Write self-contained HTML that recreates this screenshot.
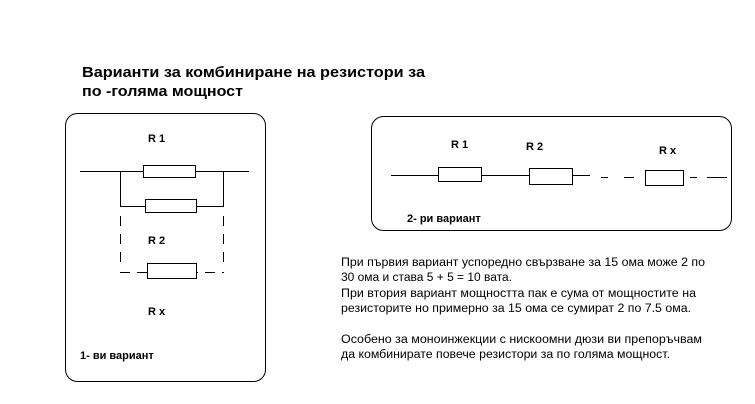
<!DOCTYPE html>
<html><head><meta charset="utf-8"><style>html,body{margin:0;padding:0;background:#fff;}svg{display:block}</style></head>
<body>
<svg width="755" height="404" viewBox="0 0 755 404" xmlns="http://www.w3.org/2000/svg" font-family="Liberation Sans, DejaVu Sans, sans-serif">
<rect width="755" height="404" fill="#fff"/>
<g font-weight="bold" font-size="15" fill="#000">
<text x="82" y="77" textLength="343" lengthAdjust="spacingAndGlyphs">Варианти за комбиниране на резистори за</text>
<text x="82" y="96" textLength="161" lengthAdjust="spacingAndGlyphs">по -голяма мощност</text>
</g>
<g fill="none" stroke="#000" stroke-width="1">
<rect x="65.5" y="113.5" width="200" height="268" rx="12"/>
<rect x="371.5" y="116.5" width="360" height="114" rx="12"/>
<line x1="80" y1="171.5" x2="249" y2="171.5"/>
<rect x="143.5" y="165.5" width="52" height="12" fill="#fff"/>
<line x1="120.5" y1="171" x2="120.5" y2="206"/>
<line x1="223.5" y1="171" x2="223.5" y2="206"/>
<line x1="120" y1="206.5" x2="224" y2="206.5"/>
<rect x="145.5" y="199.5" width="51" height="13" fill="#fff"/>
<line x1="120.5" y1="216" x2="120.5" y2="270" stroke-dasharray="10,8"/>
<line x1="223.5" y1="216" x2="223.5" y2="270" stroke-dasharray="10,8"/>
<line x1="120" y1="272.5" x2="224" y2="272.5" stroke-dasharray="10,7"/>
<rect x="147.5" y="263.5" width="49" height="15" fill="#fff"/>
<line x1="391" y1="175.5" x2="590" y2="175.5"/>
<rect x="438.5" y="167.5" width="43" height="14" fill="#fff"/>
<rect x="529.5" y="168.5" width="43" height="16" fill="#fff"/>
<line x1="601" y1="177.5" x2="608" y2="177.5"/>
<line x1="624" y1="177.5" x2="634" y2="177.5"/>
<rect x="645.5" y="170.5" width="38" height="15" fill="#fff"/>
<line x1="690" y1="177.5" x2="697" y2="177.5"/>
<line x1="707" y1="177.5" x2="727" y2="177.5"/>
</g>
<g font-weight="bold" font-size="11" fill="#000">
<text x="148" y="142">R 1</text>
<text x="148" y="244">R 2</text>
<text x="148" y="315">R x</text>
<text x="80" y="359">1- ви вариант</text>
<text x="451" y="148">R 1</text>
<text x="526" y="150">R 2</text>
<text x="659" y="154">R x</text>
<text x="407" y="222">2- ри вариант</text>
</g>
<g font-size="11.5" fill="#000">
<text x="341" y="266" textLength="364" lengthAdjust="spacingAndGlyphs">При първия вариант успоредно свързване за 15 ома може 2 по</text>
<text x="341" y="281" textLength="171" lengthAdjust="spacingAndGlyphs">30 ома и става 5 + 5 = 10 вата.</text>
<text x="341" y="297" textLength="355" lengthAdjust="spacingAndGlyphs">При втория вариант мощността пак е сума от мощностите на</text>
<text x="341" y="312" textLength="350" lengthAdjust="spacingAndGlyphs">резисторите но примерно за 15 ома се сумират 2 по 7.5 ома.</text>
<text x="341" y="343" textLength="361" lengthAdjust="spacingAndGlyphs">Особено за моноинжекции с нискоомни дюзи ви препоръчвам</text>
<text x="341" y="358" textLength="329" lengthAdjust="spacingAndGlyphs">да комбинирате повече резистори за по голяма мощност.</text>
</g>
</svg>
</body></html>
